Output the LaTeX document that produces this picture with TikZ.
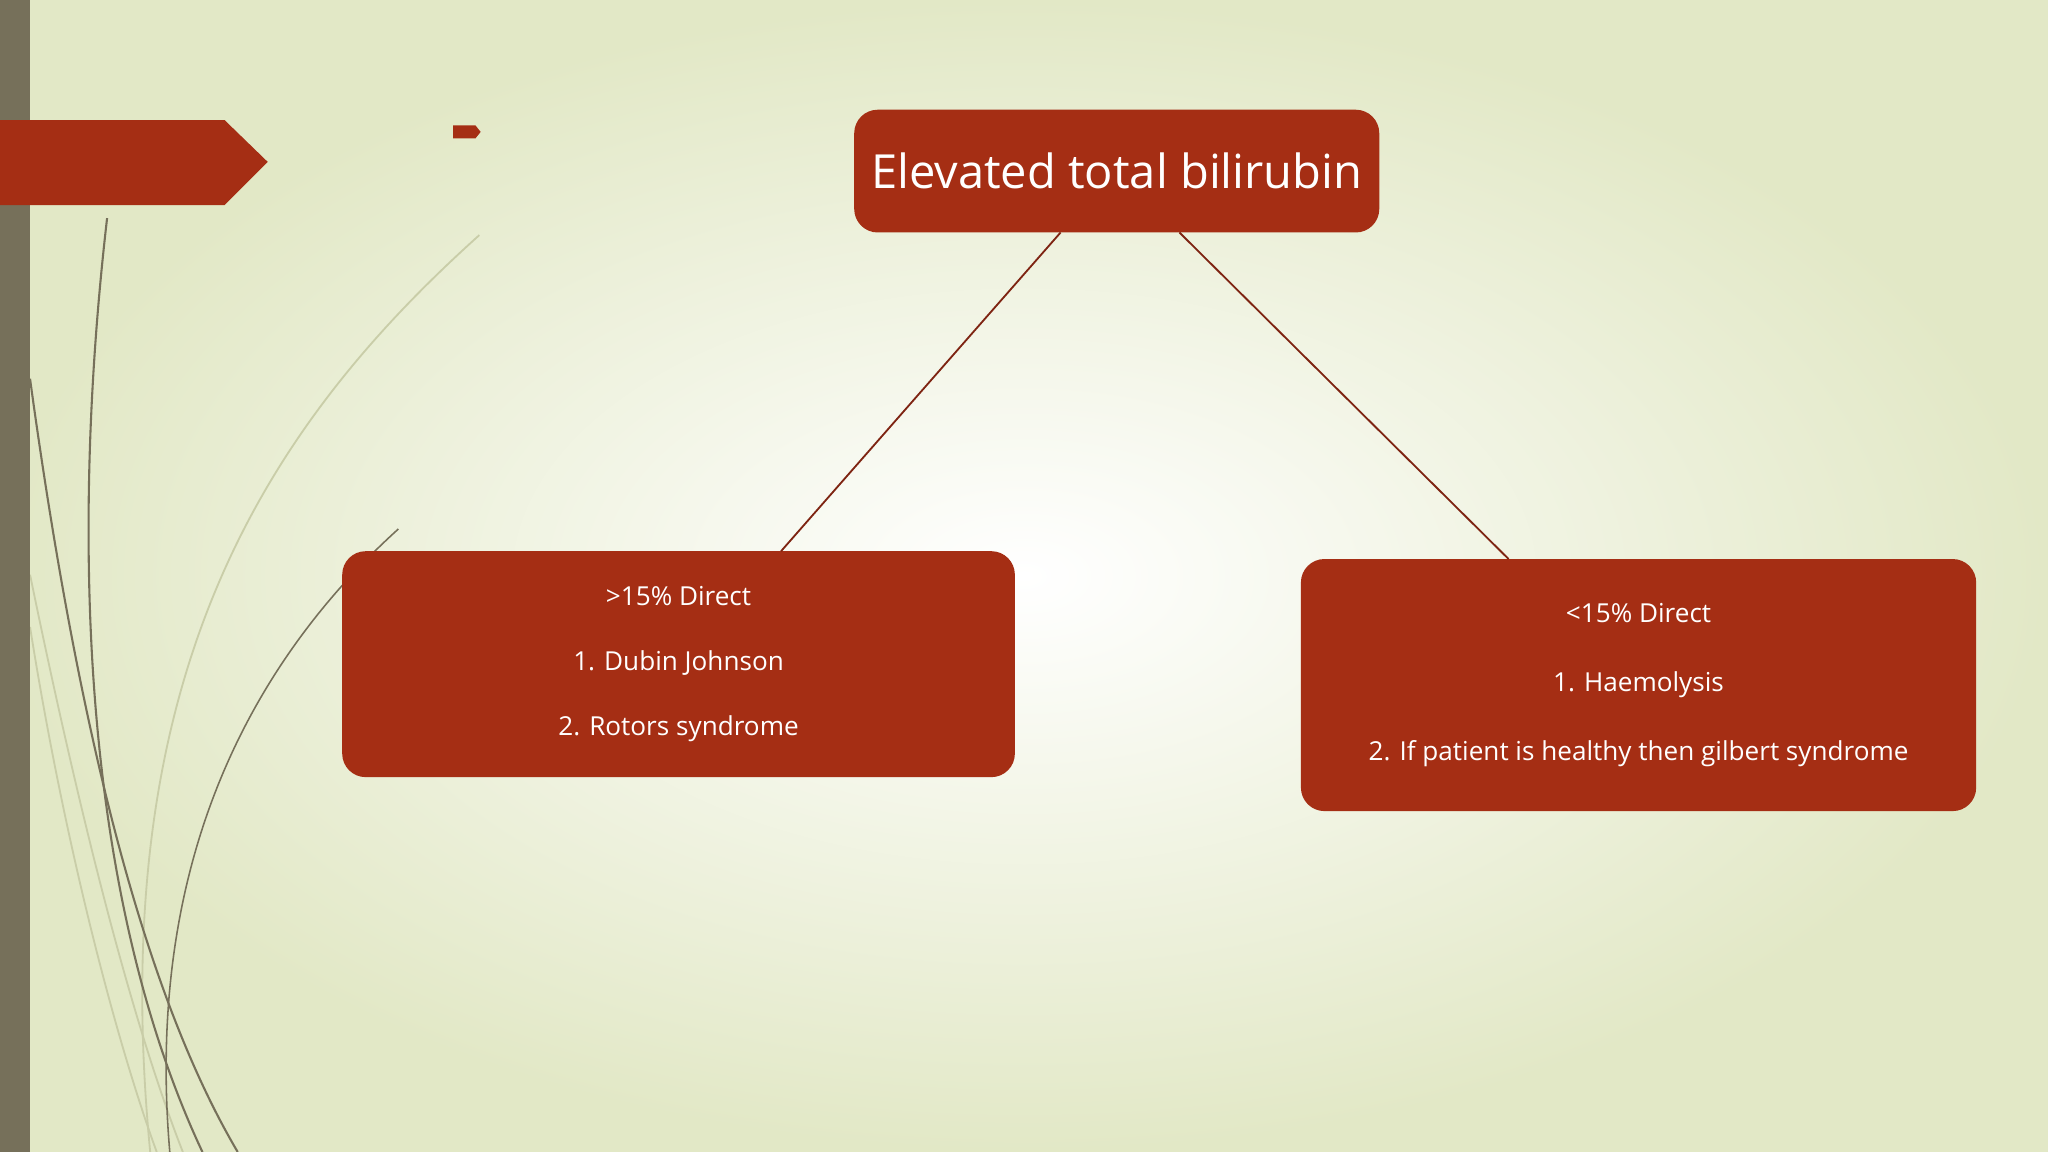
\documentclass[tikz,border=0pt]{standalone}
\usepackage{fontspec}
\setmainfont{Open Sans}
\begin{document}
\begin{tikzpicture}[x=1pt,y=-1pt,
  box/.style={fill=red0,rounded corners=18pt,text=white,align=center,inner sep=0pt},
  conn/.style={draw=red1,line width=1.4pt},
  deco/.style={line width=1.6pt,draw=olive0},
  decol/.style={line width=1.4pt,draw=olive1}]
\definecolor{red0}{HTML}{A52E14}
\definecolor{red1}{HTML}{7E2412}
\definecolor{olive0}{HTML}{76705A}
\definecolor{olive1}{HTML}{C9CDA8}
\definecolor{bgout}{HTML}{E2E8C6}
\useasboundingbox (0,0) rectangle (1568,882);
\shade[inner color=white,outer color=bgout] (0,0) rectangle (1568,882);
% decorations
\draw[decol] (367,180) .. controls (200,330) and (80,520) .. (115,882);
\draw[decol] (23,440) .. controls (60,620) and (100,780) .. (140,882);
\draw[decol] (23,480) .. controls (50,650) and (90,800) .. (120,882);
\draw[deco] (82,167) .. controls (55,400) and (60,680) .. (155,882);
\draw[deco] (23,290) .. controls (60,560) and (110,760) .. (182,882);
\draw[deco,line width=1.2pt] (305,405) .. controls (200,500) and (110,650) .. (130,882);
\fill[olive0] (0,0) rectangle (23,882);
\fill[red0] (0,92) -- (172,92) -- (205,124) -- (172,157) -- (0,157) -- cycle;
\fill[red0] (347,96) -- (364,96) -- (368,101) -- (364,106) -- (347,106) -- cycle;
% nodes
\node[box,minimum width=402pt,minimum height=94pt,font=\fontsize{36}{40}\selectfont] (top) at (855,131) {Elevated total bilirubin};
\node[box,minimum width=515pt,minimum height=173pt,font=\fontsize{20}{50}\selectfont] (left) at (519.5,508.5) {\raisebox{0pt}{}>15\% Direct\\1. Dubin Johnson\\2. Rotors syndrome};
\node[box,minimum width=517pt,minimum height=193pt,font=\fontsize{20}{53}\selectfont] (right) at (1254.5,524.5) {<15\% Direct\\1. Haemolysis\\2. If patient is healthy then gilbert syndrome};
\coordinate (t1) at (812,178); \coordinate (t2) at (903,178);
\coordinate (l1) at (598,422); \coordinate (r1) at (1155,428);
\draw[conn] (t1) -- (l1);
\draw[conn] (t2) -- (r1);
\end{tikzpicture}
\end{document}
